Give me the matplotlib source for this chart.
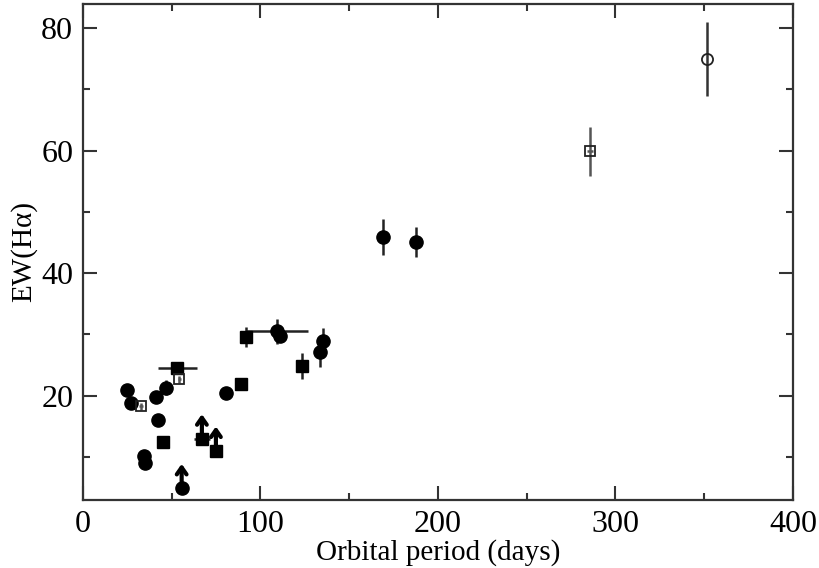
import matplotlib
matplotlib.use("Agg")
import matplotlib.pyplot as plt
from matplotlib.ticker import MultipleLocator

plt.rcParams['font.family'] = ['Liberation Serif', 'DejaVu Serif']

# Filled circles: period (days), EW(Halpha), errors
circ_p = [24.6, 26.9, 34.5, 34.9, 41.1, 42.1, 46.6, 55.6, 80.4, 109.5, 111.0, 133.5, 135.4, 169.0, 187.6]
circ_ew = [20.9, 18.9, 10.2, 9.0, 19.8, 16.0, 21.3, 4.9, 20.4, 30.5, 29.8, 27.2, 29.0, 45.9, 45.1]
circ_xerr = [0, 0, 0, 0, 0, 0, 0, 0, 0, 17.5, 0, 0, 0, 0, 0]
circ_yerr = [1.0, 0, 0, 0, 0, 0, 1.2, 0, 0, 2.0, 0, 2.5, 2.0, 3.0, 2.5]

# Filled squares
sq_p = [45.1, 53.1, 67.0, 74.9, 89.2, 91.8, 123.2]
sq_ew = [12.4, 24.5, 13.0, 11.0, 21.9, 29.6, 24.8]
sq_xerr = [0, 11.0, 4.5, 0, 0, 0, 0]
sq_yerr = [0, 0, 0, 0, 0, 1.6, 2.1]

# Open squares
osq_p = [32.7, 54.3, 285.6]
osq_ew = [18.3, 22.7, 59.9]
osq_xerr = [1.0, 1.0, 1.5]
osq_yerr = [0.6, 0.6, 4.0]

# Open circle
ocirc_p = [351.4]
ocirc_ew = [74.9]
ocirc_yerr = [6.0]

# Lower limits (upward arrows): period, EW, arrow length
lim_p = [55.6, 67.0, 74.9]
lim_ew = [4.9, 13.0, 11.0]
lim_len = [4.0, 4.0, 4.0]

fig = plt.figure(figsize=(8.19, 5.68), dpi=100)
ax = fig.add_axes([0.1013, 0.1197, 0.8669, 0.8733])

ecol = '#222222'
ax.errorbar(circ_p, circ_ew, xerr=circ_xerr, yerr=circ_yerr, fmt='none',
            ecolor=ecol, elinewidth=1.8, capsize=0, zorder=2)
ax.errorbar(sq_p, sq_ew, xerr=sq_xerr, yerr=sq_yerr, fmt='none',
            ecolor=ecol, elinewidth=1.8, capsize=0, zorder=2)
ax.errorbar(osq_p, osq_ew, xerr=osq_xerr, yerr=osq_yerr, fmt='none',
            ecolor='#555555', elinewidth=1.8, capsize=0, zorder=2)
ax.errorbar(ocirc_p, ocirc_ew, yerr=ocirc_yerr, fmt='none',
            ecolor='#333333', elinewidth=1.8, capsize=0, zorder=2)

for x, y, L in zip(lim_p, lim_ew, lim_len):
    ax.annotate('', xy=(x, y + L), xytext=(x, y),
                arrowprops=dict(arrowstyle='->,head_length=0.5,head_width=0.35',
                                lw=3.0, color='black', shrinkA=0, shrinkB=0),
                zorder=3)

ax.plot(circ_p, circ_ew, 'o', ms=9.5, color='black', mec='black', zorder=4)
ax.plot(sq_p, sq_ew, 's', ms=8, color='black', mec='black', zorder=4)
ax.plot(osq_p, osq_ew, 's', ms=7, mfc='none', mec='#222222', mew=1.3, zorder=4)
ax.plot(ocirc_p, ocirc_ew, 'o', ms=8, mfc='none', mec='#222222', mew=1.3, zorder=4)

ax.set_xlim(0, 400)
ax.set_ylim(3, 83.9)
ax.xaxis.set_major_locator(MultipleLocator(100))
ax.xaxis.set_minor_locator(MultipleLocator(50))
ax.set_yticks([20, 40, 60, 80])
ax.yaxis.set_minor_locator(MultipleLocator(10))

ax.tick_params(which='both', direction='in', top=True, right=True,
               color='#333333', width=1.5)
ax.tick_params(which='major', length=10, labelsize=23, pad=7)
ax.tick_params(which='minor', length=5)
for s in ax.spines.values():
    s.set_linewidth(1.6)
    s.set_color('#333333')

ax.set_xlabel('Orbital period (days)', fontsize=21, labelpad=0)
ax.set_ylabel('EW(Hα)', fontsize=21, labelpad=3)

fig.savefig('out.png', dpi=100)
